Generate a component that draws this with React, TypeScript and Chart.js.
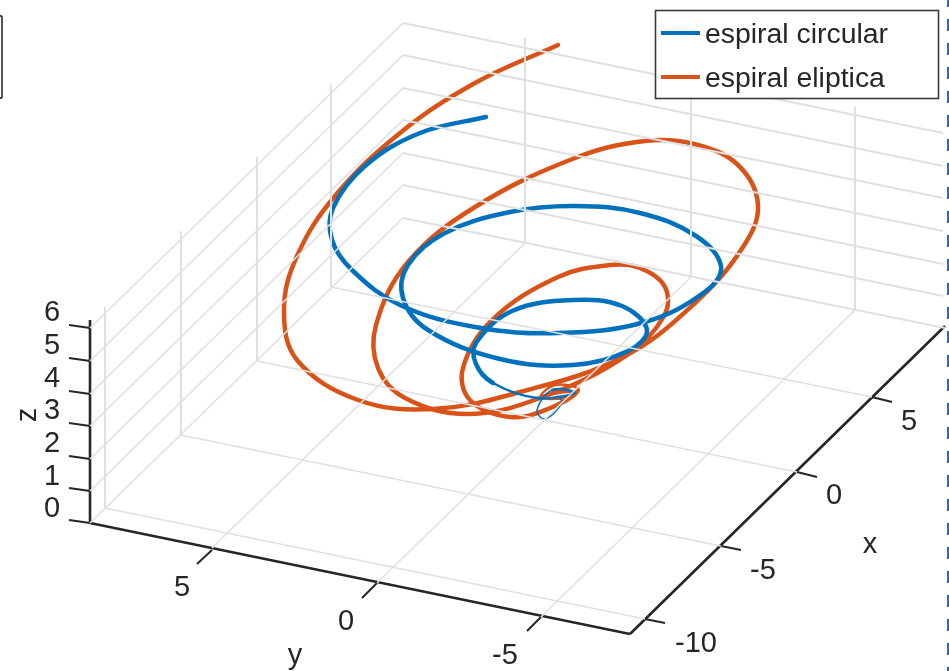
import React, { useEffect, useRef } from "react";
import { Chart, registerables } from "chart.js";

Chart.register(...registerables);

// Curves in its projected plane (horizontal, vertical).
const circularX = [486,420,365,333,332,352,400,475,558,645,706,721,696,640,575,510,445,408,403,428,500,573,628,647,622,573,512,476,476,493,537,575,552,537,545,562,558];
const circularY = [117,133,166,208,240,270,305,327,333,322,291,266,236,213,206,212,233,265,298,330,359,365,351,330,306,300,311,343,364,383,398,393,390,410,419,403,396];
const ellipticX = [558,475,400,335,297,284,297,358,433,520,623,695,743,758,738,694,645,575,475,408,376,378,405,467,540,627,664,665,640,610,558,492,463,470,510,548,578,555,541,565,572,552];
const ellipticY = [45,83,133,196,256,310,360,400,409,392,357,303,247,205,165,144,141,158,207,262,325,368,398,414,398,355,316,287,268,265,277,320,368,400,417,409,390,385,397,398,392,394];
const circularThinFrom = 29;
const circularHairFrom = 32;
const ellipticThinFrom = 36;
const seriesNames = ["espiral circular", "espiral eliptica"];

// Box planes: each row is one straight rule [x0, y0, x1, y1].
const backWallRules = [[403,23,943,133],[403,55,943,166],[403,88,943,198],[403,120,943,231],[403,153,943,264],[403,185,943,296],[403,218,945,328]];
const sideWallRules = [[90,328,403,23],[90,361,403,55],[90,394,403,88],[90,426,403,120],[90,459,403,153],[90,491,403,185],[90,523,403,218]];
const uprightRules = [[105,307,105,508],[181,231,181,435],[257,157,257,361],[331,84,331,287],[525,38,525,243],[691,72,691,277],[855,107,855,310]];
const floorRules = [[331,287,872,397],[257,361,797,472],[181,435,721,546],[105,508,645,619],[212,548,525,243],[377,583,691,277],[541,617,855,310]];
const axisRules = [[90,320,90,523],[90,523,630,634],[630,634,945,326]];
const tickRules = [[69,325,90,328],[69,358,90,361],[69,391,90,394],[69,423,90,426],[69,456,90,459],[69,488,90,491],[69,520,90,523],[212,550,197,564],[377,583,362,598],[541,617,527,631],[872,397,892,402],[797,472,817,477],[721,546,741,550],[645,619,665,623]];
const frameRules = [[0,16,2,16],[2,16,2,98],[2,98,0,98]];
const dashRule = [[948.2,-5,948.2,671]];

// Tick and axis text: [text, x, y].
const tickLabels: [string, number, number][] = [["6",52,313],["5",52,346],["4",52,379],["3",52,411],["2",52,444],["1",52,477],["0",52,509],["5",182,588],["0",346,622],["-5",505,656],["5",909,422],["0",834,496],["-5",763,571],["-10",696,644]];
const axisNames: [string, number, number, number][] = [["y",295,656,0],["x",870,545,0],["z",28,415,-90]];

const BLUE = "#0072BD";
const ORANGE = "#D95319";
const INK = "#262626";
const GRID = "#e0e0e0";
const FONT = '"Liberation Sans", Arial, sans-serif';

function ruleSet(rows: number[][], color: string, width: number, extra: object = {}) {
  return {
    label: "",
    data: rows.flatMap((r) => [{ x: r[0], y: r[1] }, { x: r[2], y: r[3] }, { x: NaN, y: NaN }]),
    borderColor: color,
    borderWidth: width,
    pointRadius: 0,
    showLine: true,
    spanGaps: false,
    tension: 0,
    ...extra,
  };
}

function curveSet(label: string, xs: number[], ys: number[], color: string, widthAt: (i: number) => number) {
  return {
    label,
    data: xs.map((x, i) => ({ x, y: ys[i] })),
    borderColor: color,
    borderWidth: 4.5,
    pointRadius: 0,
    showLine: true,
    tension: 0.38,
    borderCapStyle: "round",
    segment: { borderWidth: (c: any) => widthAt(c.p0DataIndex) },
  };
}

const annotate = {
  id: "annotate",
  afterDatasetsDraw(chart: any) {
    const { ctx, scales } = chart;
    const px = (v: number) => scales.x.getPixelForValue(v);
    const py = (v: number) => scales.y.getPixelForValue(v);
    ctx.save();
    ctx.fillStyle = INK;
    ctx.textAlign = "center";
    ctx.textBaseline = "middle";
    ctx.font = `29px ${FONT}`;
    tickLabels.forEach(([t, x, y]) => ctx.fillText(t, px(x), py(y)));
    axisNames.forEach(([t, x, y, rot]) => {
      ctx.save();
      ctx.translate(px(x), py(y));
      ctx.rotate((rot * Math.PI) / 180);
      ctx.fillText(t, 0, 0);
      ctx.restore();
    });
    // legend
    ctx.fillStyle = "#ffffff";
    ctx.fillRect(655, 10, 284, 89);
    ctx.strokeStyle = "#3a3a3a";
    ctx.lineWidth = 1.6;
    ctx.strokeRect(655.5, 10.5, 283, 88);
    [BLUE, ORANGE].forEach((c, i) => {
      const y = 33 + i * 44;
      ctx.strokeStyle = c;
      ctx.lineWidth = 4;
      ctx.beginPath();
      ctx.moveTo(661, y);
      ctx.lineTo(700, y);
      ctx.stroke();
      ctx.fillStyle = INK;
      ctx.textAlign = "left";
      ctx.font = `28.4px ${FONT}`;
      ctx.fillText(seriesNames[i], 705, y + 2);
    });
    ctx.restore();
  },
};

export default function App() {
  const ref = useRef<HTMLCanvasElement>(null);
  useEffect(() => {
    const chart = new Chart(ref.current as HTMLCanvasElement, {
      type: "scatter",
      data: {
        datasets: [
          ruleSet(backWallRules, GRID, 2),
          ruleSet(sideWallRules, GRID, 1.6),
          ruleSet(uprightRules, GRID, 2),
          ruleSet(floorRules, GRID, 1.6),
          ruleSet(axisRules, INK, 2.6),
          ruleSet(tickRules, INK, 2),
          ruleSet(frameRules, "#444444", 1.8),
          ruleSet(dashRule, "#2a68b5", 2.4, { borderDash: [12, 12] }),
          curveSet(seriesNames[0], circularX, circularY, BLUE, (i) => (i >= circularHairFrom ? 1.5 : i >= circularThinFrom ? 2.5 : 4.5)),
          curveSet(seriesNames[1], ellipticX, ellipticY, ORANGE, (i) => (i >= ellipticThinFrom ? 2.5 : 4.5)),
        ] as any,
      },
      options: {
        animation: false,
        responsive: false,
        layout: { padding: 0 },
        plugins: { legend: { display: false }, tooltip: { enabled: false } },
        scales: {
          x: { type: "linear", min: 0, max: 949, display: false },
          y: { type: "linear", min: 0, max: 671, reverse: true, display: false },
        },
      },
      plugins: [annotate],
    });
    return () => chart.destroy();
  }, []);
  return (
    <canvas
      ref={ref}
      width={949}
      height={671}
      style={{ position: "fixed", left: 0, top: 0, width: 949, height: 671, display: "block", filter: "blur(0.5px)" }}
    />
  );
}
